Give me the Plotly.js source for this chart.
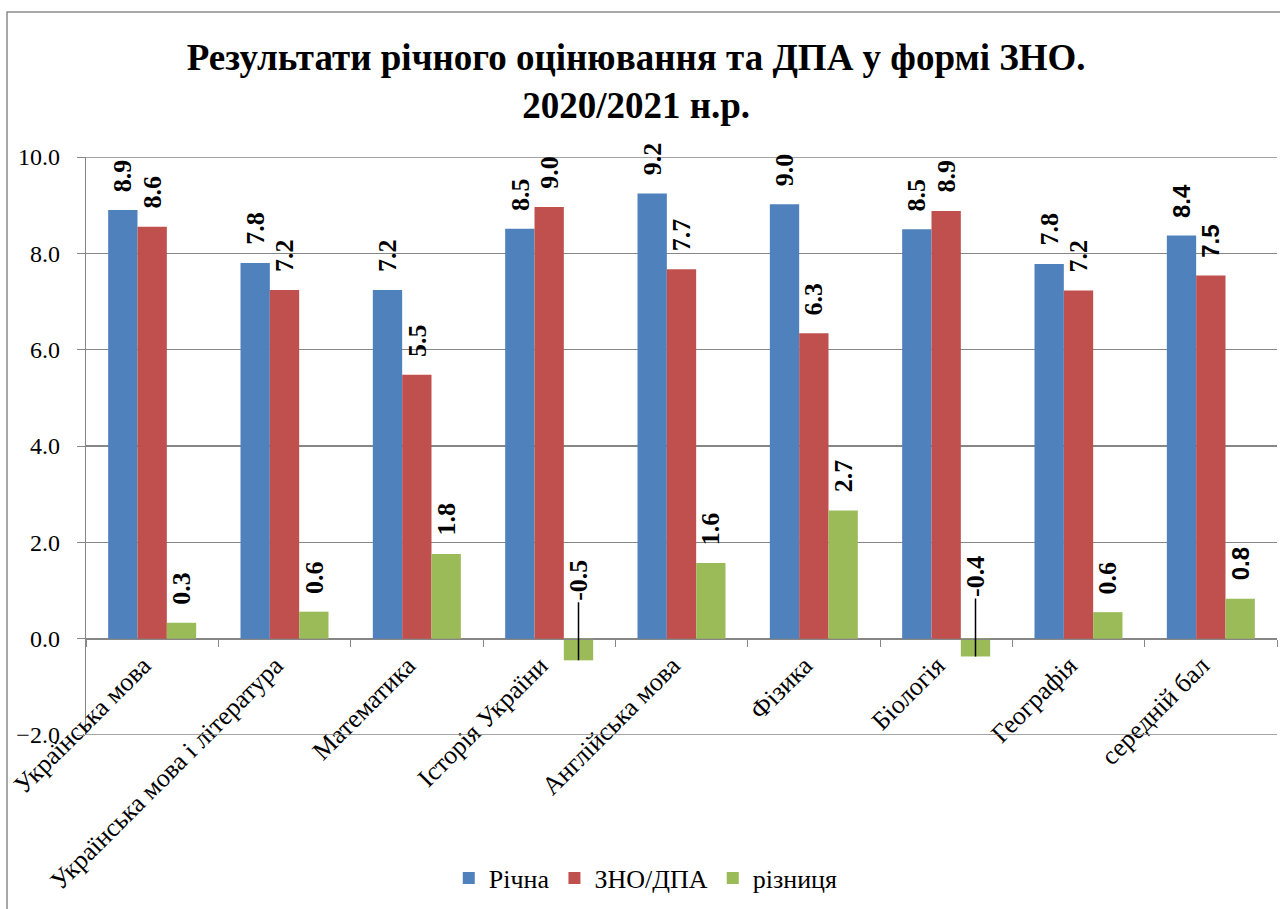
<!DOCTYPE html>
<html>
<head>
<meta charset="utf-8">
<script src="https://cdn.plot.ly/plotly-3.0.1.min.js"></script>
<style>html,body{margin:0;padding:0;background:#fff;}#chart{width:1280px;height:909px;}</style>
</head>
<body>
<div id="chart"></div>
<script>
const categories = ["Українська мова", "Українська мова і література", "Математика", "Історія України", "Англійська мова", "Фізика", "Біологія", "Географія", "середній бал"];
const seriesNames = ["Річна", "ЗНО/ДПА", "різниця"];
const richna = [8.90, 7.80, 7.24, 8.51, 9.24, 9.02, 8.50, 7.78, 8.37];
const zno = [8.55, 7.24, 5.48, 8.96, 7.67, 6.34, 8.88, 7.23, 7.54];
const riznytsia = [0.33, 0.56, 1.76, -0.45, 1.57, 2.66, -0.37, 0.55, 0.83];
const colors = ["#4F81BD", "#C0504D", "#9BBB59"];

const SERIF = 'Times New Roman, Liberation Serif, DejaVu Serif, serif';
const SANS = 'Arial, Liberation Sans, sans-serif';
const series = [richna, zno, riznytsia];
const L = 86, R = 3, T = 157, B = 174, W = 1280, H = 909;
const plotW = W - L - R, plotH = H - T - B;
const bargap = 0.335;
const barW = plotW / categories.length * (1 - bargap) / 3;

const traces = series.map((vals, i) => ({
  type: 'bar', name: seriesNames[i], x: categories, y: vals,
  marker: {color: colors[i]}, hoverinfo: 'skip'
}));

const annotations = [];
series.forEach((vals, i) => {
  vals.forEach((v, j) => {
    const last = (j === categories.length - 1);
    const fam = last ? SANS : SERIF;
    const size = last ? 24 : 26;
    const label = v.toFixed(1);
    if (v >= 0) {
      annotations.push({x: categories[j], y: v, xref: 'x', yref: 'y', text: '<b>' + label + '</b>',
        textangle: -90, showarrow: false, xanchor: 'center', yanchor: 'bottom', yshift: 16,
        xshift: (i - 1) * barW, font: {family: fam, size: size, color: '#000'}});
    } else {
      annotations.push({x: categories[j], y: v, xref: 'x', yref: 'y', text: '<b>' + label + '</b>',
        textangle: -90, showarrow: true, arrowhead: 0, arrowwidth: 1.5, arrowcolor: '#000',
        ax: 0, ay: -80, xshift: (i - 1) * barW, font: {family: fam, size: size, color: '#000'}});
    }
  });
});

const frameX0 = (7 - L) / plotW, frameY1 = 1 + (T - 12) / plotH;
const layout = {
  width: W, height: H,
  margin: {l: L, r: R, t: T, b: B},
  paper_bgcolor: '#fff', plot_bgcolor: '#fff',
  font: {family: SERIF, color: '#000'},
  title: {text: '<b>Результати річного оцінювання та ДПА у формі ЗНО.<br>2020/2021 н.р.</b>',
    font: {family: SERIF, size: 37, color: '#000'},
    x: 0.497, xref: 'container', xanchor: 'center', y: 1 - 70 / H, yanchor: 'top', yref: 'container'},
  barmode: 'group', bargap: bargap, bargroupgap: 0,
  showlegend: true,
  legend: {orientation: 'h', x: 0.470, xanchor: 'center', y: (plotH - (878 - T)) / plotH, yanchor: 'middle',
    itemwidth: 30, font: {family: SERIF, size: 26, color: '#000'}},
  xaxis: {type: 'category', anchor: 'free', position: 2 / 12, showline: true, linecolor: '#868686', linewidth: 1.3,
    ticks: 'outside', tickson: 'boundaries', ticklen: 7, tickcolor: '#868686', tickangle: -45, ticklabelshift: -9,
    tickfont: {family: SERIF, size: 26, color: '#000'}, showgrid: false, fixedrange: true},
  yaxis: {range: [-2, 10], dtick: 2, tick0: 0, tickformat: '.1f', showline: true, linecolor: '#868686', linewidth: 1.3,
    ticks: 'outside', ticklen: 8, tickcolor: '#868686', showgrid: true, gridcolor: '#868686', gridwidth: 1.3,
    ticklabelstandoff: 12,
    zeroline: false, tickfont: {family: SERIF, size: 24, color: '#000'}, fixedrange: true},
  annotations: annotations,
  shapes: [
    {type: 'line', xref: 'paper', yref: 'y', x0: 0, x1: 1, y0: -2, y1: -2, line: {color: '#868686', width: 1.3}},
    {type: 'line', xref: 'paper', yref: 'y', x0: 0, x1: 1, y0: 10, y1: 10, line: {color: '#868686', width: 1.3}},
    {type: 'rect', xref: 'paper', yref: 'paper', x0: frameX0, x1: 1.05, y0: -0.4, y1: frameY1, line: {color: '#8c8c8c', width: 1.5}, layer: 'below'}
  ]
};
Plotly.newPlot('chart', traces, layout, {displayModeBar: false, staticPlot: true});
</script>
</body>
</html>
